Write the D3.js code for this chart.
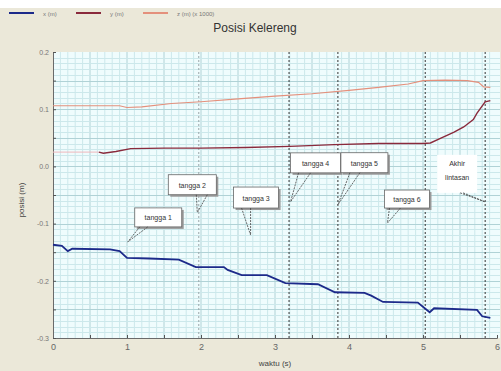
<!DOCTYPE html>
<html>
<head>
<meta charset="utf-8">
<script src="https://cdn.jsdelivr.net/npm/d3@7"></script>
<style>
  body { margin: 0; background: #fff; }
  svg { display: block; font-family: "Liberation Sans", Arial, sans-serif; }
</style>
</head>
<body>
<div id="chart"></div>
<script>
const WIDTH = 501;
const HEIGHT = 371;

// x (m) series: [time, value]
const xSeries = [
  [0, -0.137], [0.12, -0.139], [0.2, -0.148], [0.26, -0.144], [0.77, -0.145],
  [0.9, -0.148], [1.0, -0.160], [1.3, -0.161], [1.7, -0.163], [1.93, -0.176],
  [2.31, -0.176], [2.36, -0.181], [2.55, -0.190], [2.89, -0.190], [3.14, -0.204],
  [3.58, -0.206], [3.81, -0.220], [4.21, -0.221], [4.3, -0.226], [4.46, -0.237],
  [4.93, -0.238], [5.09, -0.255], [5.15, -0.248], [5.73, -0.251], [5.80, -0.262],
  [5.91, -0.265]
];

// y (m) series
const ySeries = [
  [0, 0.025], [0.3, 0.025], [0.62, 0.025], [0.68, 0.023], [0.85, 0.026],
  [1.05, 0.031], [1.5, 0.032], [2.0, 0.032], [2.6, 0.033], [3.2, 0.035],
  [3.8, 0.038], [4.4, 0.040], [5.0, 0.040], [5.1, 0.041], [5.25, 0.050],
  [5.42, 0.060], [5.55, 0.069], [5.68, 0.082], [5.73, 0.093], [5.84, 0.113],
  [5.91, 0.115]
];
const yPaleUntil = 0.65;

// z (m) series
const zSeries = [
  [0, 0.106], [0.5, 0.106], [0.9, 0.106], [1.0, 0.103], [1.2, 0.104],
  [1.6, 0.110], [2.0, 0.113], [2.5, 0.118], [3.0, 0.123], [3.5, 0.127],
  [4.0, 0.133], [4.4, 0.138], [4.8, 0.144], [5.0, 0.150], [5.3, 0.151],
  [5.6, 0.150], [5.75, 0.147], [5.82, 0.139], [5.91, 0.138]
];

const xTicks = [0, 1, 2, 3, 4, 5, 6];
const yTicks = [0.2, 0.1, 0.0, -0.1, -0.2, -0.3];
const yTickLabels = ['0.2', '0.1', '0.0', '-0.1', '-0.2', '-0.3'];

const markerTimes = [1.97, 3.19, 3.85, 5.03, 5.84];
const markerFaint = [true, false, false, false, false];

const legendLabels = ['x (m)', 'y (m)', 'z (m)  (x 1000)'];
const calloutLabels = [['tangga 1'], ['tangga 2'], ['tangga 3'], ['tangga 4'],
  ['tangga 5'], ['tangga 6'], ['Akhir', 'lintasan']];
const calloutTargetT = [1.01, 1.95, 2.67, 3.21, 3.85, 4.52, 5.84];
const calloutTargetV = [-0.132, -0.081, -0.12, -0.062, -0.067, -0.099, -0.062];

// box placement relative to target point (pixels): dx, dy, w, h, tail x1, tail x2 (relative to box left)
const calloutBoxes = [
  [7, -34, 47, 19, 5, 13],
  [-29, -38, 48, 20, 28, 39],
  [-17, -48, 45, 21, 8, 17],
  [0, -49, 50, 20, 8, 20],
  [3, -52, 47, 20, 9, 19],
  [-3, -33, 45, 18, 5, 16],
  [-48, -47, 40, 38, 23, 26]
];

const COLORS = { x: '#1c2a8a', y: '#8a2a3c', yPale: '#f0b8bc', z: '#e4907c' };

const svg = d3.select('#chart').append('svg')
  .attr('width', WIDTH)
  .attr('height', HEIGHT);

svg.append('rect').attr('x', 0).attr('y', 8).attr('width', WIDTH).attr('height', HEIGHT - 8)
  .attr('fill', '#ebe8d9');

const plotLeft = 53, plotRight = 497, plotTop = 52, plotBottom = 338;

const x = d3.scaleLinear().domain([0, 6]).range([plotLeft, plotRight]);
const y = d3.scaleLinear().domain([-0.3, 0.2]).range([plotBottom, plotTop]);

svg.append('rect')
  .attr('x', plotLeft).attr('y', plotTop)
  .attr('width', plotRight - plotLeft + 3).attr('height', plotBottom - plotTop)
  .attr('fill', '#effcfd');

// grid
const grid = svg.append('g');
grid.selectAll('line.vx')
  .data(d3.range(1, 60).map(function(i) { return i / 10; }))
  .enter().append('line')
  .attr('x1', function(d) { return x(d); }).attr('x2', function(d) { return x(d); })
  .attr('y1', plotTop).attr('y2', plotBottom)
  .attr('stroke', function(d, i) { return (i + 1) % 5 == 0 ? '#b0d2d6' : '#cce8eb'; })
  .attr('stroke-width', 1);
grid.selectAll('line.hy')
  .data(d3.range(-29, 20).map(function(i) { return i / 100; }))
  .enter().append('line')
  .attr('x1', plotLeft).attr('x2', plotRight + 3)
  .attr('y1', function(d) { return Math.round(y(d)) + 0.5; })
  .attr('y2', function(d) { return Math.round(y(d)) + 0.5; })
  .attr('stroke', function(d, i) { return (i + 1) % 5 == 0 ? '#b0d2d6' : '#cce8eb'; })
  .attr('stroke-width', 1);

// marker lines
svg.selectAll('line.marker')
  .data(markerTimes)
  .enter().append('line')
  .attr('x1', function(d) { return x(d); }).attr('x2', function(d) { return x(d); })
  .attr('y1', plotTop).attr('y2', plotBottom)
  .attr('stroke', function(d, i) { return markerFaint[i] ? '#9aa6a8' : '#333'; })
  .attr('stroke-width', 1)
  .attr('stroke-dasharray', '2,2');

// axes
const xAxis = d3.axisBottom(x).tickValues(d3.range(0, 6.01, 0.5)).tickSize(-3)
  .tickFormat(function(d) { return Number.isInteger(d) ? d : ''; });
const gx = svg.append('g').attr('transform', 'translate(0,' + plotBottom + ')').call(xAxis);
gx.select('.domain').attr('stroke', '#6a6a6a');
gx.selectAll('.tick line').attr('stroke', '#555');
gx.selectAll('.tick text').attr('fill', '#666').attr('font-size', 9).attr('dy', 9);

const yAxis = d3.axisLeft(y).tickValues(d3.range(-0.3, 0.201, 0.05)).tickSize(-3)
  .tickFormat(function(d) {
    const idx = yTicks.findIndex(function(t) { return Math.abs(t - d) < 1e-6; });
    return idx >= 0 ? yTickLabels[idx] : '';
  });
const gy = svg.append('g').attr('transform', 'translate(' + plotLeft + ',0)').call(yAxis);
gy.select('.domain').attr('stroke', '#6a6a6a');
gy.selectAll('.tick line').attr('stroke', '#555');
gy.selectAll('.tick text').attr('fill', '#777').attr('font-size', 7).attr('dx', -1);

// series
const line = d3.line()
  .x(function(d) { return x(d[0]); })
  .y(function(d) { return y(d[1]); });

svg.append('path').attr('d', line(zSeries))
  .attr('fill', 'none').attr('stroke', COLORS.z).attr('stroke-width', 1.2);
svg.append('path').attr('d', line(ySeries.filter(function(d) { return d[0] <= yPaleUntil; })))
  .attr('fill', 'none').attr('stroke', COLORS.yPale).attr('stroke-width', 1);
svg.append('path').attr('d', line(ySeries.filter(function(d) { return d[0] >= yPaleUntil - 0.05; })))
  .attr('fill', 'none').attr('stroke', COLORS.y).attr('stroke-width', 1.4);
svg.append('path').attr('d', line(xSeries))
  .attr('fill', 'none').attr('stroke', COLORS.x).attr('stroke-width', 1.8);

// callouts
calloutLabels.forEach(function(lines, i) {
  const tx = x(calloutTargetT[i]), ty = y(calloutTargetV[i]);
  const b = calloutBoxes[i];
  const bx = tx + b[0], by = ty + b[1], bw = b[2], bh = b[3];
  const g = svg.append('g');
  const akhir = lines.length > 1;
  if (!akhir) {
    g.append('rect').attr('x', bx + 2).attr('y', by + 2).attr('width', bw).attr('height', bh)
      .attr('fill', '#9a9a9a');
  }
  g.append('rect').attr('x', bx).attr('y', by).attr('width', bw).attr('height', bh)
    .attr('fill', '#fff').attr('stroke', akhir ? 'none' : '#666').attr('stroke-width', 0.8);
  g.append('line').attr('x1', bx + b[4]).attr('y1', by + bh).attr('x2', tx).attr('y2', ty)
    .attr('stroke', '#444').attr('stroke-width', 0.8).attr('stroke-dasharray', '2,1');
  g.append('line').attr('x1', bx + b[5]).attr('y1', by + bh).attr('x2', tx).attr('y2', ty)
    .attr('stroke', '#444').attr('stroke-width', 0.8).attr('stroke-dasharray', '2,1');
  lines.forEach(function(t, j) {
    g.append('text')
      .attr('x', bx + bw / 2)
      .attr('y', by + (akhir ? 11 + j * 14 : bh / 2 + 3))
      .attr('text-anchor', 'middle')
      .attr('font-size', 7).attr('fill', '#333')
      .text(t);
  });
});

// title
svg.append('text').attr('x', 255).attr('y', 32).attr('text-anchor', 'middle')
  .attr('font-size', 12).attr('fill', '#333').text('Posisi Kelereng');

// legend
const legendColors = [COLORS.x, COLORS.y, COLORS.z];
legendLabels.forEach(function(t, i) {
  const lx = 9 + i * 67;
  svg.append('line').attr('x1', lx).attr('x2', lx + 25).attr('y1', 13).attr('y2', 13)
    .attr('stroke', legendColors[i]).attr('stroke-width', 2);
  svg.append('text').attr('x', lx + 34).attr('y', 15.5)
    .attr('font-size', 6).attr('fill', '#777').text(t);
});

// axis labels
svg.append('text').attr('x', x(3)).attr('y', 366).attr('text-anchor', 'middle')
  .attr('font-size', 8).attr('fill', '#444').text('waktu (s)');
svg.append('text').attr('transform', 'translate(24,' + ((plotTop + plotBottom) / 2 + 5) + ') rotate(-90)')
  .attr('text-anchor', 'middle').attr('font-size', 8).attr('fill', '#444').text('posisi (m)');
</script>
</body>
</html>
